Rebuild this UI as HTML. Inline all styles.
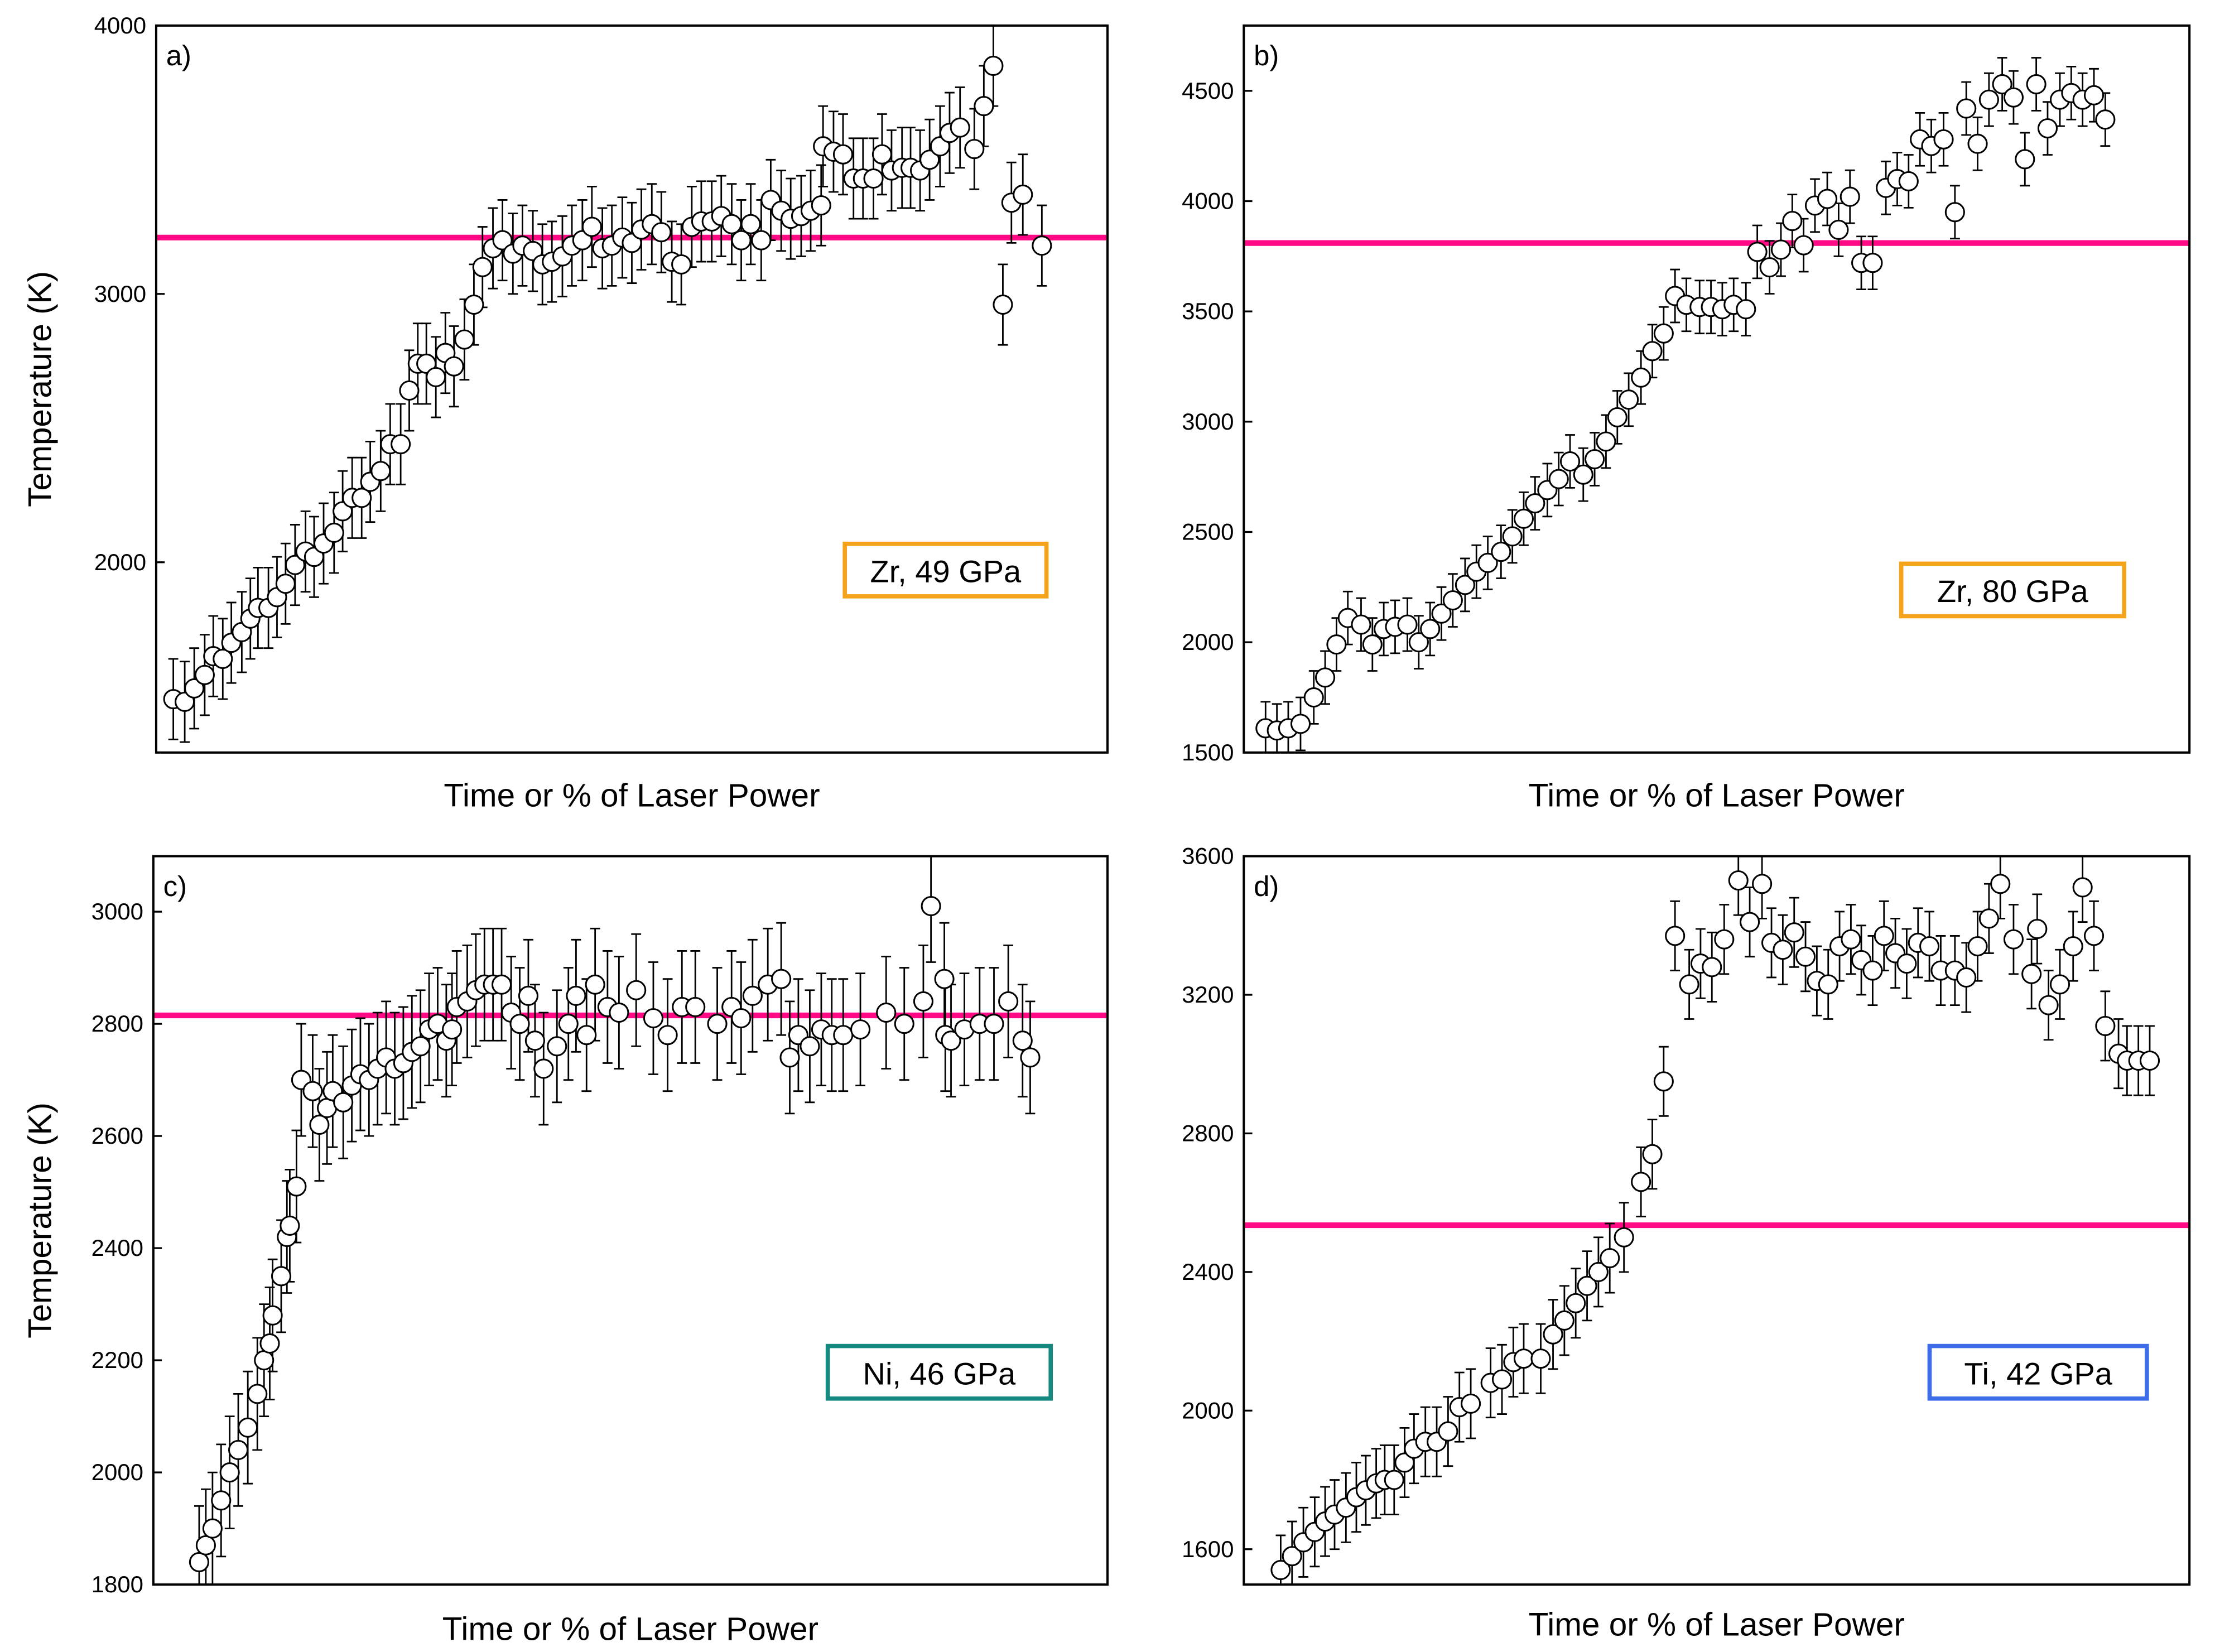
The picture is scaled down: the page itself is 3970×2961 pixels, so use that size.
<!DOCTYPE html>
<html><head><meta charset="utf-8">
<style>html,body{margin:0;padding:0;background:#fff}svg{display:block}</style></head>
<body>
<svg id="fig" width="3970" height="2961" viewBox="0 0 1560 1163.5" preserveAspectRatio="none" xmlns="http://www.w3.org/2000/svg" font-family="Liberation Sans, Arial, sans-serif"></svg>
<script>
// Panel a data (x = % position, temperature K)
const aX=[1.8,3,4,5.1,6,7,7.9,9,9.9,10.7,11.8,12.7,13.6,14.6,15.7,16.6,17.6,18.7,19.6,20.6,21.6,22.5,23.6,24.6,25.7,26.6,27.5,28.4,29.4,30.4,31.3,32.4,33.4,34.3,35.4,36.4,37.5,38.5,39.6,40.6,41.6,42.7,43.7,44.8,45.8,46.9,47.9,49,50,51,52.1,53.1,54.2,55.2,56.3,57.3,58.4,59.4,60.5,61.5,62.5,63.6,64.6,65.7,66.7,67.8,68.8,69.9,70.1,71.2,72.2,73.3,74.3,75.4,76.3,77.3,78.4,79.3,80.3,81.3,82.4,83.4,84.5,86,87,88,89,89.9,91.1,93.1];
const aY=[1490,1480,1530,1580,1650,1640,1700,1740,1790,1830,1830,1870,1920,1990,2040,2020,2070,2110,2190,2240,2240,2300,2340,2440,2440,2640,2740,2740,2690,2780,2730,2830,2960,3100,3170,3200,3150,3180,3160,3110,3120,3140,3180,3200,3250,3170,3180,3210,3190,3240,3260,3230,3120,3110,3250,3270,3270,3290,3260,3200,3260,3200,3350,3310,3280,3290,3310,3330,3550,3530,3520,3430,3430,3430,3520,3460,3470,3470,3460,3500,3550,3600,3620,3540,3700,3850,2960,3340,3370,3180,3470];
const aErr=150, aRef=3210;
// Panel b
const bX=[2.3,3.5,4.7,6,7.4,8.6,9.8,11,12.4,13.6,14.8,16,17.3,18.5,19.7,20.9,22.1,23.4,24.6,25.8,27.2,28.4,29.6,30.8,32.1,33.3,34.5,35.9,37.1,38.3,39.5,40.7,42,43.2,44.4,45.6,46.8,48.2,49.4,50.6,51.8,53.1,54.3,55.6,56.8,58,59.2,60.4,61.7,62.9,64.1,65.3,66.5,67.9,69.1,70.3,71.5,72.7,74,75.2,76.4,77.6,78.8,80.2,81.4,82.6,83.8,85,86.3,87.5,88.7,89.9,91.1,92.5,93.7,94.9];
const bY=[1610,1600,1610,1630,1750,1840,1990,2110,2080,1990,2060,2070,2080,2000,2060,2130,2190,2260,2320,2360,2410,2480,2560,2630,2690,2740,2820,2760,2830,2910,3020,3100,3200,3320,3400,3570,3530,3520,3520,3510,3530,3510,3770,3700,3780,3910,3800,3980,4010,3870,4020,3720,3720,4060,4100,4090,4280,4250,4280,3950,4420,4260,4460,4530,4470,4190,4530,4330,4460,4490,4460,4480,4370];
const bErr=120, bRef=3810;
// Panel c
const cX=[4.8,5.5,6.2,7.1,8,8.9,9.9,10.9,11.6,12.2,12.5,13.4,14,14.3,15,15.5,16.7,17.4,18.2,18.8,19.9,20.8,21.7,22.6,23.5,24.4,25.3,26.2,27.1,28,28.9,29.8,30.7,31.3,31.8,32.9,33.8,34.7,35.6,36.5,37.5,38.4,39.3,40,40.9,42.3,43.5,44.3,45.4,46.3,47.6,48.8,50.6,52.4,53.9,55.4,56.8,59.1,60.6,61.6,62.8,64.4,65.8,66.7,67.6,68.8,70,71.1,72.3,74.1,76.8,78.7,80.7,81.5,82.9,83,83.6,85,86.6,88.1,89.6,91.1,91.9,92.1];
const cY=[1840,1870,1900,1950,2000,2040,2080,2140,2200,2230,2280,2350,2420,2440,2510,2700,2680,2620,2650,2680,2660,2690,2710,2700,2720,2740,2720,2730,2750,2760,2790,2800,2770,2790,2830,2840,2860,2870,2870,2870,2820,2800,2850,2770,2720,2760,2800,2850,2780,2870,2830,2820,2860,2810,2780,2830,2830,2800,2830,2810,2850,2870,2880,2740,2780,2760,2790,2780,2780,2790,2820,2800,2840,3010,2880,2780,2770,2790,2800,2800,2840,2770,2740];
const cErr=100, cRef=2815;
// Panel d
const dX=[3.9,5.1,6.3,7.5,8.6,9.6,10.8,11.9,12.9,14,14.9,15.9,17,18,19.2,20.4,21.6,22.8,24,26.1,27.3,28.5,29.6,31.4,32.7,33.9,35.1,36.3,37.5,38.7,40.2,42,43.2,44.4,45.6,47.1,48.3,49.5,50.8,52.3,53.5,54.8,55.8,57,58.2,59.4,60.6,61.8,63,64.2,65.3,66.5,67.7,68.9,70.1,71.3,72.5,73.7,75.2,76.4,77.6,78.8,80,81.4,83.3,83.9,85.1,86.3,87.7,88.7,89.9,91.1,92.5,93.4,94.6,95.8,97.3];
const dY=[1540,1580,1620,1650,1680,1700,1720,1750,1770,1790,1800,1800,1850,1890,1910,1910,1940,2010,2020,2080,2090,2140,2150,2150,2220,2260,2310,2360,2400,2440,2500,2660,2740,2950,3370,3230,3290,3280,3360,3530,3410,3520,3350,3330,3380,3310,3240,3230,3340,3360,3300,3270,3370,3320,3290,3350,3340,3270,3270,3250,3340,3420,3520,3360,3260,3390,3170,3230,3340,3510,3370,3110,3030,3010,3010,3010];
const dErr=100, dRef=2535;

const svg=document.getElementById('fig');
const NS='http://www.w3.org/2000/svg';
function mk(tag,attrs,parent){const e=document.createElementNS(NS,tag);for(const k in attrs)e.setAttribute(k,attrs[k]);(parent||svg).appendChild(e);return e;}

const panels=[
 {id:'a',L:110,R:780,T:18,B:530,ymin:1291,ymax:4000,ticks:[2000,3000,4000],X:aX,Y:aY,err:aErr,ref:aRef,label:'Zr, 49 GPa',col:'#f5a31a',box:[595,383,142,37],ytitle:true,xt:560},
 {id:'b',L:876,R:1542,T:18,B:530,ymin:1500,ymax:4796,ticks:[1500,2000,2500,3000,3500,4000,4500],X:bX,Y:bY,err:bErr,ref:bRef,label:'Zr, 80 GPa',col:'#f5a31a',box:[1339,397,157,37],ytitle:false,xt:560},
 {id:'c',L:108,R:780,T:603,B:1116,ymin:1800,ymax:3099,ticks:[1800,2000,2200,2400,2600,2800,3000],X:cX,Y:cY,err:cErr,ref:cRef,label:'Ni, 46 GPa',col:'#168a80',box:[583,948,157,37],ytitle:true,xt:1147},
 {id:'d',L:876,R:1542,T:603,B:1116,ymin:1498,ymax:3600,ticks:[1600,2000,2400,2800,3200,3600],X:dX,Y:dY,err:dErr,ref:dRef,label:'Ti, 42 GPa',col:'#3d6de8',box:[1359,948,153,37],ytitle:false,xt:1144}
];

panels.forEach(p=>{
 const g=mk('g',{});
 
 
 const xs=v=>p.L+(p.R-p.L)*v/100;
 const ys=v=>p.B-(p.B-p.T)*(v-p.ymin)/(p.ymax-p.ymin);
 const clip=mk('clipPath',{id:'clip'+p.id},g);
 mk('rect',{x:p.L,y:p.T,width:p.R-p.L,height:p.B-p.T},clip);
 p.ticks.forEach(t=>{
  const y=ys(t);
  const tk=mk('line',{x1:p.L,x2:p.L+6,y1:y,y2:y,stroke:'#000','stroke-width':1.3},g);
  
  
  const tl=mk('text',{x:p.L-7,y:y+5.5,'text-anchor':'end','font-size':16.5},g);
  tl.textContent=t;
  
  
 });
 const rl=mk('line',{x1:p.L,x2:p.R,y1:ys(p.ref),y2:ys(p.ref),stroke:'#ff0a84','stroke-width':4},g);
 
 
 const mg=mk('g',{'clip-path':'url(#clip'+p.id+')'},g);
 p.X.forEach((xv,i)=>{
  const cx=xs(xv), cy=ys(p.Y[i]), y1=ys(p.Y[i]+p.err), y2=ys(p.Y[i]-p.err);
  const eb=mk('path',{d:`M${cx},${y1}V${y2}M${cx-3.5},${y1}H${cx+3.5}M${cx-3.5},${y2}H${cx+3.5}`,stroke:'#000','stroke-width':1.1,fill:'none'},mg);
  
  
 });
 p.X.forEach((xv,i)=>{
  const c=mk('circle',{cx:xs(xv),cy:ys(p.Y[i]),r:6.5,fill:'#fff',stroke:'#000','stroke-width':1.2},mg);
  
  
 });
 const fr=mk('rect',{x:p.L,y:p.T,width:p.R-p.L,height:p.B-p.T,fill:'none',stroke:'#000','stroke-width':1.6},g);
 
 
 const pl=mk('text',{x:p.L+7,y:p.T+28,'font-size':20},g);
 pl.textContent=p.id+')';
 
 
 const bx=mk('rect',{x:p.box[0],y:p.box[1],width:p.box[2],height:p.box[3],fill:'#fff',stroke:p.col,'stroke-width':3},g);
 
 
 const bt=mk('text',{x:p.box[0]+p.box[2]/2,y:p.box[1]+27,'text-anchor':'middle','font-size':22},g);
 bt.textContent=p.label;
 
 
 const xt=mk('text',{x:(p.L+p.R)/2,y:p.xt+8,'text-anchor':'middle','font-size':23},g);
 xt.textContent='Time or % of Laser Power';
 
 
 if(p.ytitle){
  const cy=(p.T+p.B)/2;
  const yt=mk('text',{x:36,y:cy,'text-anchor':'middle','font-size':23,transform:`rotate(-90 36 ${cy})`},g);
  yt.textContent='Temperature (K)';
  
  
 }
});
</script>
</body></html>
